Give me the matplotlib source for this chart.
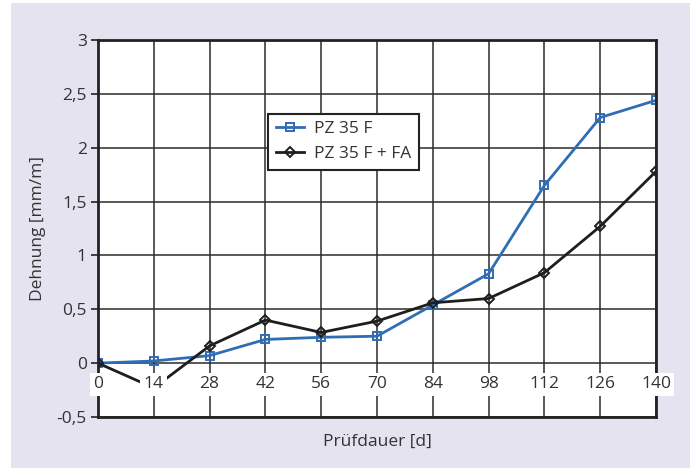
import matplotlib
matplotlib.use("Agg")
import matplotlib.pyplot as plt
from matplotlib.patches import Rectangle

plt.rcParams['font.family'] = ['Open Sans', 'DejaVu Sans']

# Prüfdauer in Tagen
days = [0, 14, 28, 42, 56, 70, 84, 98, 112, 126, 140]
# Dehnung [mm/m]
pz35f = [0.00, 0.02, 0.07, 0.22, 0.24, 0.25, 0.54, 0.83, 1.65, 2.28, 2.44]
pz35f_fa = [0.00, -0.23, 0.16, 0.40, 0.285, 0.39, 0.56, 0.60, 0.84, 1.27, 1.78]

y_ticks = [-0.5, 0, 0.5, 1, 1.5, 2, 2.5, 3]
y_labels = ['-0,5', '0', '0,5', '1', '1,5', '2', '2,5', '3']

text_col = '#333333'
grid_col = '#2b2b2b'
blue = '#2f6db5'
black = '#1e1e1e'
fs = 12.5

fig = plt.figure(figsize=(6.9, 4.68), dpi=100, facecolor='white')
fig.patches.append(Rectangle((11 / 690, 0), 1, 1 - 3 / 468, transform=fig.transFigure,
                             facecolor='#e5e3ef', edgecolor='none', zorder=-10))

ax = fig.add_axes([98 / 690, (468 - 417) / 468, (656 - 98) / 690, (417 - 40) / 468])
ax.set_facecolor('white')
ax.set_xlim(0, 140)
ax.set_ylim(-0.5, 3)

for x in days:
    ax.axvline(x, color=grid_col, lw=1.1, zorder=1)
for y in y_ticks:
    ax.axhline(y, color=grid_col, lw=1.1, zorder=1)

ax.plot(days, pz35f, color=blue, lw=2, marker='s', ms=6, mfc='none', mec=blue,
        mew=1.4, label='PZ 35 F', zorder=3)
ax.plot(days, pz35f_fa, color=black, lw=2, marker='D', ms=5.5, mfc='none', mec=black,
        mew=1.4, label='PZ 35 F + FA', zorder=3)

for s in ax.spines.values():
    s.set_linewidth(2)
    s.set_color('#222222')
    s.set_zorder(4)

ax.set_yticks(y_ticks)
ax.set_yticklabels(y_labels)
ax.tick_params(axis='y', direction='out', length=5, width=1.2, color='#222222',
               labelsize=fs, labelcolor=text_col, pad=3)
ax.set_xticks(days)
ax.tick_params(axis='x', length=0, labelbottom=False)

# Zeitachse bei Dehnung 0 beschriften
for x in days:
    ax.annotate(str(x), (x, 0), xytext=(0, -9.5), textcoords='offset points',
                ha='center', va='top', fontsize=fs, color=text_col,
                bbox=dict(facecolor='white', edgecolor='none', pad=2.5),
                zorder=5, annotation_clip=False)

ax.set_ylabel('Dehnung [mm/m]', fontsize=fs, color=text_col, labelpad=8)
ax.set_xlabel('Prüfdauer [d]', fontsize=fs, color=text_col, labelpad=12)

leg = ax.legend(loc='upper left', bbox_to_anchor=(0.305, 0.805), fontsize=fs,
                frameon=True, fancybox=False, edgecolor='#222222', framealpha=1,
                handlelength=1.6, borderpad=0.45, labelspacing=0.5, handletextpad=0.6,
                borderaxespad=0)
leg.get_frame().set_linewidth(1.5)
for t in leg.get_texts():
    t.set_color(text_col)

fig.savefig('out.png', dpi=100, facecolor=fig.get_facecolor())
